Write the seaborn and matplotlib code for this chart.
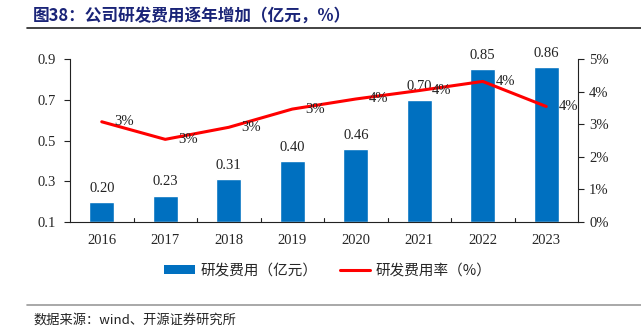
import matplotlib
matplotlib.use("Agg")
import matplotlib.pyplot as plt
from matplotlib.lines import Line2D
from matplotlib.patches import Patch
import seaborn as sns
import pandas as pd

years = ["2016", "2017", "2018", "2019", "2020", "2021", "2022", "2023"]
rd_expense = [0.20, 0.23, 0.31, 0.40, 0.46, 0.70, 0.85, 0.86]   # 亿元
rd_ratio = [3.08, 2.54, 2.91, 3.47, 3.78, 4.04, 4.32, 3.55]     # %
left_ticks = [0.1, 0.3, 0.5, 0.7, 0.9]
right_ticks = [0, 1, 2, 3, 4, 5]

sns.set_theme(style="white")
serif = ["Liberation Serif", "DejaVu Serif"]
cjk = ["Noto Sans CJK SC", "DejaVu Sans"]
plt.rcParams["font.family"] = serif

BLUE = "#0070C0"
RED = "#FF0000"

df = pd.DataFrame({"year": years, "expense": rd_expense, "ratio": rd_ratio})

fig = plt.figure(figsize=(6.41, 3.36), dpi=100)
ax = fig.add_axes([70 / 641, 114 / 336, 508 / 641, 162.7 / 336])

ymin = left_ticks[0]
sns.barplot(data=df, x="year", y="expense", color=BLUE, width=0.4,
            saturation=1, ax=ax)
# bars rise from the axis floor
for p, v in zip(ax.patches, rd_expense):
    p.set_y(ymin)
    p.set_height(v - ymin)
    ax.text(p.get_x() + p.get_width() / 2, v + 0.035, f"{v:.2f}",
            ha="center", va="bottom", fontsize=10.5, color="#222222")

ax.set_ylim(ymin, left_ticks[-1])
ax.set_xlim(-0.5, len(years) - 0.5)
ax.set_yticks(left_ticks)
ax.set_yticklabels([f"{t:.1f}" for t in left_ticks], fontsize=10.5)
ax.set_xlabel("")
ax.set_ylabel("")
ax.set_xticks(range(len(years)))
ax.set_xticklabels(years, fontsize=10.5)
ax.tick_params(axis="x", length=0, pad=9)
ax.tick_params(axis="y", length=4, width=0.8, direction="out", color="#222222", pad=6)
# category separators along the bottom axis
for b in range(1, len(years)):
    ax.axvline(b - 0.5, ymin=0, ymax=0.025, color="#222222", lw=0.8)
for s in ["top", "right"]:
    ax.spines[s].set_visible(False)
for s in ["left", "bottom"]:
    ax.spines[s].set_color("#222222")
    ax.spines[s].set_linewidth(0.8)

ax2 = ax.twinx()
sns.lineplot(x=list(range(len(years))), y=rd_ratio, color=RED, lw=2.2, ax=ax2)
for i, r in enumerate(rd_ratio):
    ax2.text(i + 0.2, r, f"{r:.0f}%", ha="left", va="center",
             fontsize=10.5, color="#222222")
ax2.set_ylim(right_ticks[0], right_ticks[-1])
ax2.set_yticks(right_ticks)
ax2.set_yticklabels([f"{t}%" for t in right_ticks], fontsize=10.5)
ax2.tick_params(axis="y", length=4, width=0.8, direction="out", color="#222222", pad=4)
for s in ["top", "left", "bottom"]:
    ax2.spines[s].set_visible(False)
ax2.spines["right"].set_color("#222222")
ax2.spines["right"].set_linewidth(0.8)
ax2.set_ylabel("")

handles = [Patch(facecolor=BLUE, edgecolor="none"),
           Line2D([0], [0], color=RED, lw=2.2)]
fig.legend(handles, ["研发费用（亿元）", "研发费用率（%）"],
           loc="center", bbox_to_anchor=(328 / 641, 1 - 271 / 336), ncol=2,
           frameon=False, prop={"family": cjk, "size": 10.5},
           handlelength=2.1, handleheight=0.6, columnspacing=1.5, handletextpad=0.4)

fig.text(33 / 641, 1 - 16 / 336, "图38：公司研发费用逐年增加（亿元，%）",
         fontsize=12, fontweight="bold", color="#1A2478", family=cjk,
         ha="left", va="center")
fig.add_artist(Line2D([27 / 641, 1], [1 - 28 / 336] * 2, color="#222222", lw=1.2))
fig.add_artist(Line2D([27 / 641, 1], [1 - 305 / 336] * 2, color="#999999", lw=1.2))
fig.text(33 / 641, 1 - 320 / 336, "数据来源：wind、开源证券研究所",
         fontsize=9.5, color="#222222", family=cjk, ha="left", va="center")

fig.savefig("out.png", dpi=100)
